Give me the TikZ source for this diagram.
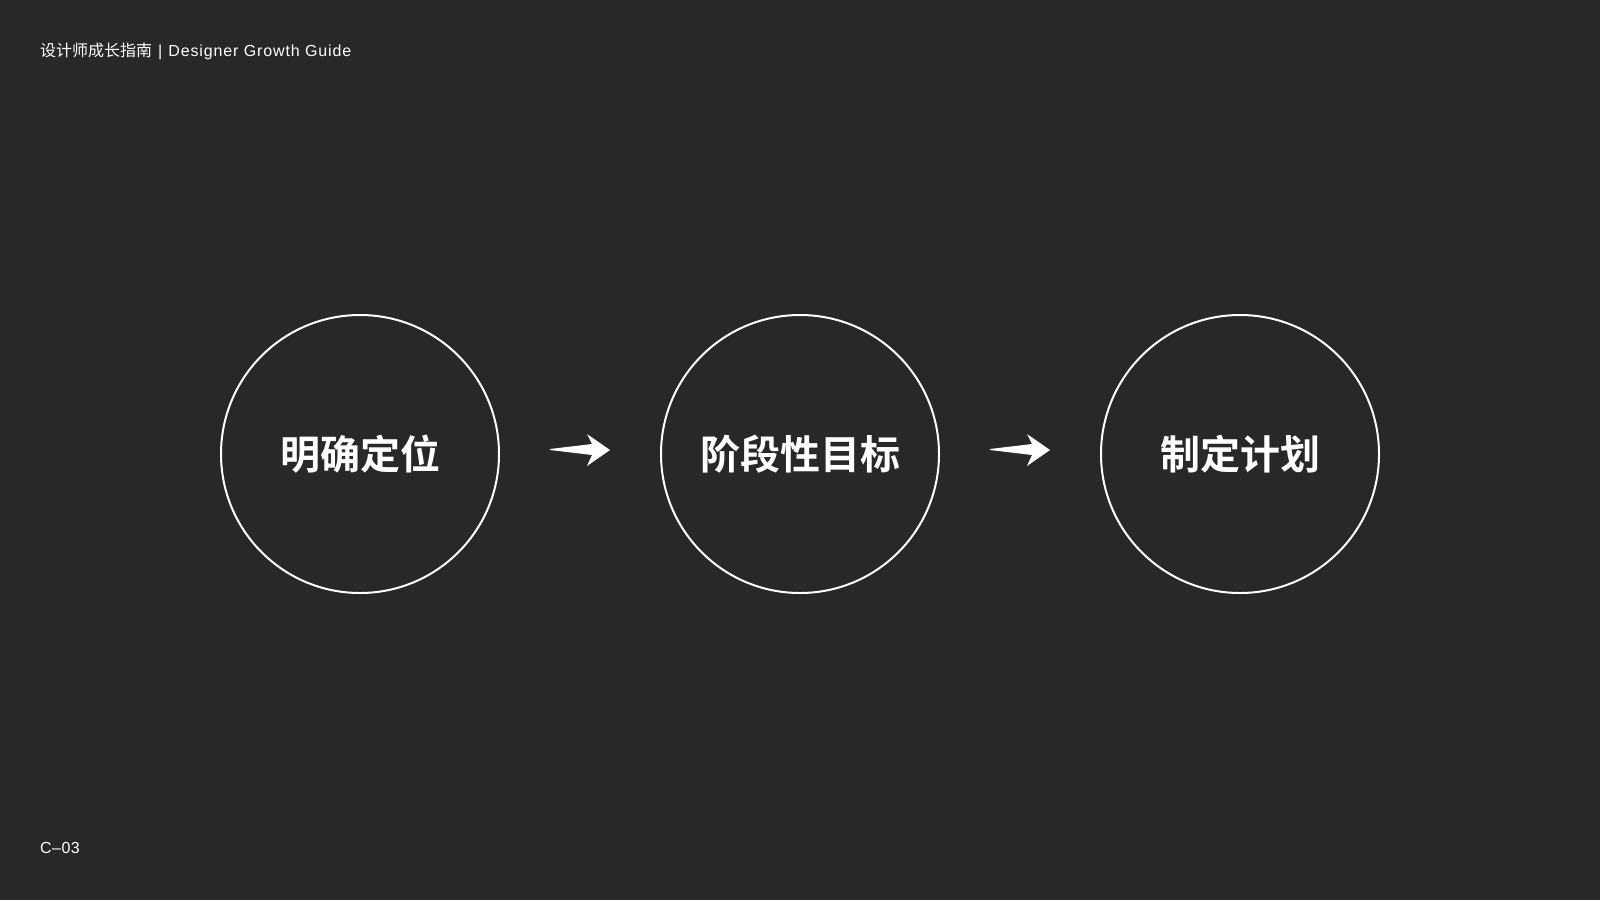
\documentclass[tikz,border=0pt]{standalone}
\usepackage{fontspec}
\newfontfamily\cjk{Noto Sans CJK SC}
\newfontfamily\cjkbold{Noto Sans CJK SC Bold}
\newfontfamily\latin{Liberation Sans}
\definecolor{bg}{RGB}{40,40,42}
\tikzset{
  stage/.style={circle, draw=white, line width=2pt, minimum size=278pt, inner sep=0pt, text=white, font=\cjkbold\fontsize{40}{42}\selectfont},
  small/.style={anchor=base west, inner sep=0pt, text=white, font=\fontsize{16}{18}\selectfont},
  arrowshape/.style={fill=white, draw=none}
}
\begin{document}
\begin{tikzpicture}[x=1pt,y=-1pt]
\fill[bg] (0,0) rectangle (1600,900);
\useasboundingbox (0,0) rectangle (1600,900);
\node[small] (title) at (40,56) {{\cjk 设计师成长指南}\hspace{6pt}{\latin |}\hspace{6pt}{\latin\addfontfeature{LetterSpace=5.5} Designer Growth Guide}};
\node[small, font=\latin\addfontfeature{LetterSpace=3}\fontsize{16}{18}\selectfont] (page) at (40,853) {C–03};
\node[stage] (s1) at (360,454) {明确定位};
\node[stage] (s2) at (800,454) {阶段性目标};
\node[stage] (s3) at (1240,454) {制定计划};
\coordinate (a1) at (550,450);
\coordinate (a2) at (990,450);
\foreach \a in {a1,a2}{
  \fill[white] ([shift={(0,-1)}]\a) -- ++(42,-5) -- ++(-5,-10) -- ++(23,16) -- ++(-23,16) -- ++(5,-11) -- ++(-42,-5) -- cycle;
}
\end{tikzpicture}
\end{document}
